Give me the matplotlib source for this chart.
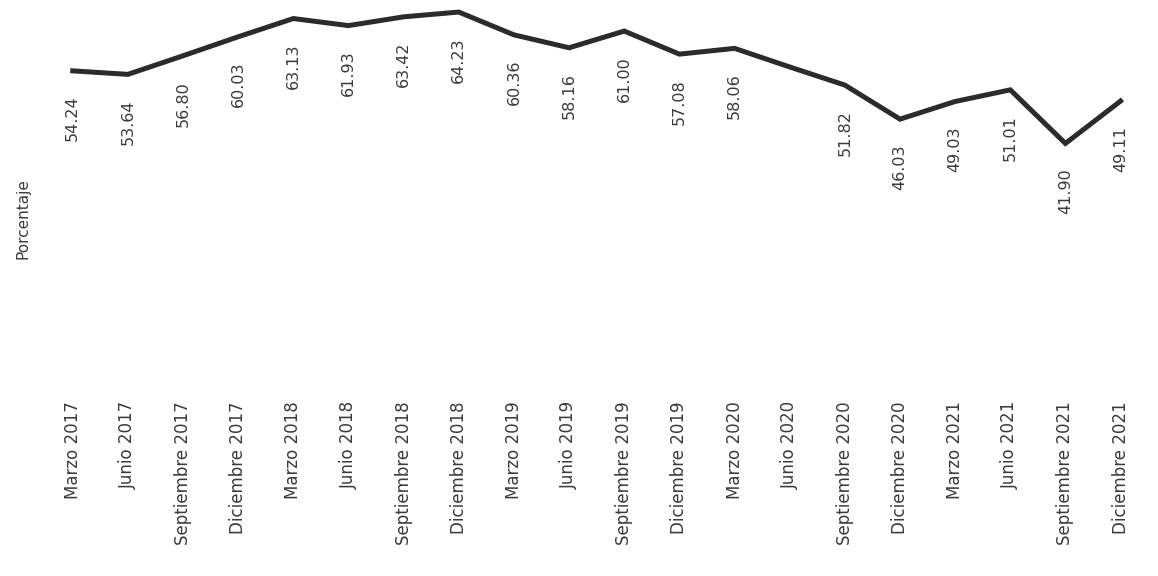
import matplotlib.pyplot as plt

periodos = ["Marzo 2017", "Junio 2017", "Septiembre 2017", "Diciembre 2017",
            "Marzo 2018", "Junio 2018", "Septiembre 2018", "Diciembre 2018",
            "Marzo 2019", "Junio 2019", "Septiembre 2019", "Diciembre 2019",
            "Marzo 2020", "Junio 2020", "Septiembre 2020", "Diciembre 2020",
            "Marzo 2021", "Junio 2021", "Septiembre 2021", "Diciembre 2021"]
porcentaje = [54.24, 53.64, 56.80, 60.03, 63.13, 61.93, 63.42, 64.23,
              60.36, 58.16, 61.00, 57.08, 58.06, 54.90, 51.82, 46.03,
              49.03, 51.01, 41.90, 49.11]
# the Junio 2020 point carries no label in the original
etiquetas = ["54.24", "53.64", "56.80", "60.03", "63.13", "61.93", "63.42", "64.23",
             "60.36", "58.16", "61.00", "57.08", "58.06", "", "51.82", "46.03",
             "49.03", "51.01", "41.90", "49.11"]

plt.rcParams['font.family'] = ['DejaVu Sans']

fig = plt.figure(figsize=(11.58, 5.76), dpi=100)
ax = fig.add_axes([0.039, 0.323, 0.9525, 0.668])

x = list(range(len(periodos)))
ax.plot(x, porcentaje, color="#2b2b2b", linewidth=3.6, solid_joinstyle="miter")

for xi, yi, t in zip(x, porcentaje, etiquetas):
    if t:
        ax.annotate(t, (xi, yi), xytext=(0, -18), textcoords="offset points",
                    rotation=90, ha="center", va="top", fontsize=11.5, color="#3a3a3a")

ax.set_xlim(-0.5, len(periodos) - 0.5)
ax.set_ylim(0, 65.4)
ax.set_xticks(x)
ax.set_xticklabels(periodos, rotation=90, fontsize=12, color="#3a3a3a", va="top")
ax.tick_params(axis="x", length=0, pad=8)
ax.set_yticks([])
for s in ax.spines.values():
    s.set_visible(False)

fig.text(0.02, 0.62, "Porcentaje", rotation=90, ha="center", va="center",
         fontsize=11, color="#3a3a3a")

fig.savefig("out.png", dpi=100)
